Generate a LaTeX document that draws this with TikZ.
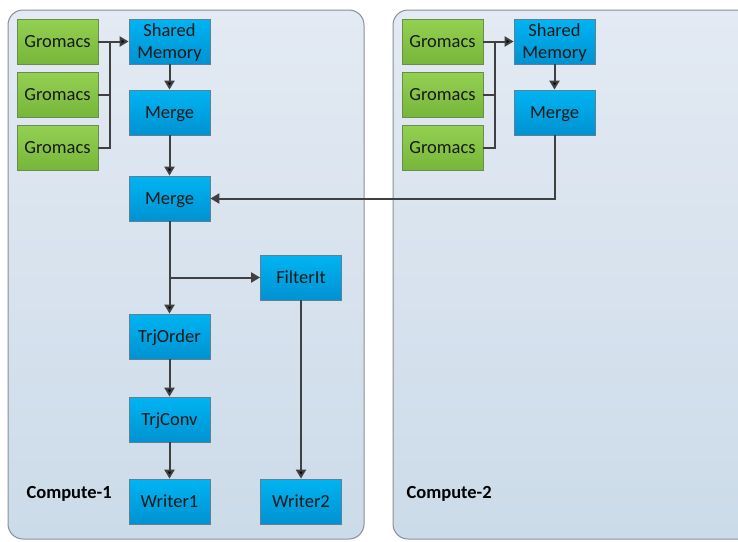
\documentclass[tikz,border=0pt]{standalone}
\usepackage{fontspec}
\setmainfont{Carlito}
\usetikzlibrary{positioning,arrows.meta}

\definecolor{panelTop}{HTML}{E3EAF3}
\definecolor{panelBot}{HTML}{CCDBE9}
\definecolor{panelLine}{HTML}{8A8F96}
\definecolor{blueTop}{HTML}{00B4F2}
\definecolor{blueBot}{HTML}{0092D2}
\definecolor{blueLine}{HTML}{5F7F92}
\definecolor{greenTop}{HTML}{94D052}
\definecolor{greenBot}{HTML}{76B63A}
\definecolor{greenLine}{HTML}{6A8C4C}
\definecolor{wire}{HTML}{404040}

\begin{document}
\begin{tikzpicture}[x=1pt,y=1pt,node distance=50pt,on grid,
  font=\fontsize{18.5}{22}\selectfont,
  panel/.style={draw=panelLine,line width=1pt,rounded corners=15pt,top color=panelTop,bottom color=panelBot},
  task/.style={draw=blueLine,line width=0.8pt,top color=blueTop,bottom color=blueBot,minimum width=81pt,minimum height=45pt,align=center,inner sep=1pt,text depth=0pt,text=black!90},
  gromacs/.style={task,draw=greenLine,top color=greenTop,bottom color=greenBot},
  flow/.style={draw=wire,line width=2pt,-{Triangle[length=9pt,width=10pt]}},
  bus/.style={draw=wire,line width=2pt},
  hostname/.style={font=\fontsize{18.5}{22}\selectfont\bfseries,anchor=west}]
   \clip (0,0) rectangle (738,-541);
   \fill[white] (0,0) rectangle (738,-541);
   \draw[panel] (8,-10) rectangle (364,-539);
   \draw[panel] (393,-10) rectangle (770,-539);
   % compute-1
   \node[gromacs] (g_1) at (57.5,-41.5) {Gromacs};
   \node[gromacs] (g_2) [below=53 of g_1] {Gromacs};
   \node[gromacs] (g_3) [below=53 of g_2] {Gromacs};
   \node[task] (shm_1) [right=112 of g_1] {Shared\\Memory};
   \node[task] (merge_1) [below=71 of shm_1] {Merge};
   \node[task] (merge) [below=86 of merge_1] {Merge};
   \node[task] (filter) [below right=79 and 131.5 of merge] {FilterIt};
   \node[task] (order) [below=138 of merge] {TrjOrder};
   \node[task] (conv) [below=83 of order] {TrjConv};
   \node[task] (writer_1) [below=82 of conv] {Writer1};
   \node[task] (writer_2) [below=224 of filter] {Writer2};
   \node[hostname] (host_1) at (23,-494) {Compute-1};
   % compute-2
   \node[gromacs] (g_4) [right=385 of g_1] {Gromacs};
   \node[gromacs] (g_5) [below=53 of g_4] {Gromacs};
   \node[gromacs] (g_6) [below=53 of g_5] {Gromacs};
   \node[task] (shm_2) [right=112 of g_4] {Shared\\Memory};
   \node[task] (merge_2) [below=71 of shm_2] {Merge};
   \node[hostname] (host_2) at (403,-494) {Compute-2};
   \coordinate (bus_1) at (110,-41.5);
   \coordinate (bus_2) at (495,-41.5);
   \coordinate (fork) at (merge.south |- filter.west);
   \path[bus] (g_2.east) -| (bus_1)
              (g_3.east) -| (bus_1)
              (g_5.east) -| (bus_2)
              (g_6.east) -| (bus_2);
   \path[flow]
    (g_1) edge (shm_1)
    (shm_1) edge (merge_1)
    (merge_1) edge (merge)
    (merge) edge (order)
    (filter) edge (writer_2)
    (order) edge (conv)
    (conv) edge (writer_1)
    (g_4) edge (shm_2)
    (shm_2) edge (merge_2);
   \draw[flow] (fork) -- (filter);
   \draw[flow] (merge_2) |- (merge);
\end{tikzpicture}
\end{document}
